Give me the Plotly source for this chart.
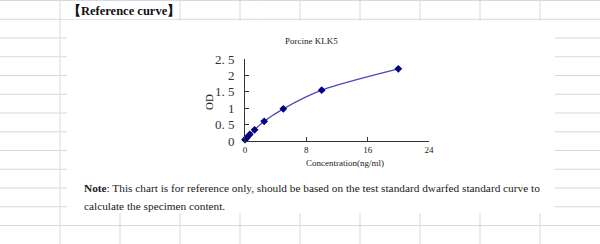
import plotly.graph_objects as go

# ---- data ----
concentration = [0, 0.156, 0.313, 0.625, 1.25, 2.5, 5, 10, 20]
od_values = [0.04, 0.08, 0.12, 0.2, 0.34, 0.6, 0.98, 1.55, 2.2]
x_ticks = [0, 8, 16, 24]
y_tickvals = [0, 0.5, 1, 1.5, 2, 2.5]
y_ticktext = ["0", "0. 5", "1", "1. 5", "2", "2. 5"]

W, H = 600, 244
L, R, T, B = 245, 429, 59, 141  # plot area in pixels

def px(x):
    return (x - L) / (R - L)

def py(y):
    return (B - y) / (B - T)

SERIF = "Liberation Serif, Times New Roman, serif"
GRID = "#d6d9e4"

fig = go.Figure()
fig.add_trace(go.Scatter(
    x=concentration, y=od_values, mode="lines+markers",
    line=dict(color="#4848b8", width=1.2, shape="spline", smoothing=0.8),
    marker=dict(symbol="diamond", size=6, color="#000080"),
    showlegend=False, cliponaxis=False,
))

shapes = []
# spreadsheet grid lines
for gx in range(60, 600, 60):
    shapes.append(dict(type="line", xref="paper", yref="paper", x0=px(gx), x1=px(gx),
                       y0=py(0), y1=py(H), line=dict(color=GRID, width=1), layer="below"))
gy = 0.5
while gy < H:
    shapes.append(dict(type="line", xref="paper", yref="paper", x0=px(0), x1=px(W),
                       y0=py(gy), y1=py(gy), line=dict(color=GRID, width=1), layer="below"))
    gy += 18.75
# white pasted image region
shapes.append(dict(type="rect", xref="paper", yref="paper", x0=px(67), x1=px(555),
                   y0=py(21), y1=py(213), fillcolor="white", line=dict(width=0), layer="below"))
# white header cell background behind header text
shapes.append(dict(type="rect", xref="paper", yref="paper", x0=px(61), x1=px(179),
                   y0=py(1.5), y1=py(19), fillcolor="white", line=dict(width=0), layer="below"))

annotations = [
    dict(text="<b>【Reference curve】</b>", x=px(66), y=py(11), xref="paper", yref="paper",
         xanchor="left", yanchor="middle", showarrow=False,
         font=dict(family=SERIF, size=12.5, color="#111")),
    dict(text="Porcine KLK5", x=px(311), y=py(41), xref="paper", yref="paper",
         xanchor="center", yanchor="middle", showarrow=False,
         font=dict(family=SERIF, size=9, color="#222")),
    dict(text="Concentration(ng/ml)", x=px(345), y=py(163), xref="paper", yref="paper",
         xanchor="center", yanchor="middle", showarrow=False,
         font=dict(family=SERIF, size=9, color="#222")),
    dict(text="OD", x=px(209), y=py(102), xref="paper", yref="paper", textangle=-90,
         xanchor="center", yanchor="middle", showarrow=False,
         font=dict(family=SERIF, size=11, color="#222")),
    dict(text="<b>Note</b>: This chart is for reference only, should be based on the test standard dwarfed standard curve to",
         x=px(82), y=py(188), xref="paper", yref="paper",
         xanchor="left", yanchor="middle", showarrow=False,
         font=dict(family=SERIF, size=11.3, color="#1a1a1a")),
    dict(text="calculate the specimen content.",
         x=px(82), y=py(206), xref="paper", yref="paper",
         xanchor="left", yanchor="middle", showarrow=False,
         font=dict(family=SERIF, size=11.3, color="#1a1a1a")),
]

fig.update_layout(
    width=W, height=H,
    margin=dict(l=L, r=W - R, t=T, b=H - B, pad=0),
    paper_bgcolor="white", plot_bgcolor="rgba(0,0,0,0)",
    shapes=shapes, annotations=annotations,
    xaxis=dict(range=[0, 24], tickvals=x_ticks, ticks="inside", ticklen=4,
               showline=True, linecolor="#333", linewidth=1, showgrid=False, zeroline=False,
               tickfont=dict(family=SERIF, size=9, color="#222"), tickcolor="#333"),
    yaxis=dict(range=[0, 2.5], tickvals=y_tickvals, ticktext=y_ticktext, ticks="inside",
               ticklen=4, showline=True, linecolor="#333", linewidth=1, showgrid=False,
               zeroline=False, tickfont=dict(family=SERIF, size=13, color="#333"),
               tickcolor="#333", ticklabelstandoff=7),
)

fig.write_html("out.html")
